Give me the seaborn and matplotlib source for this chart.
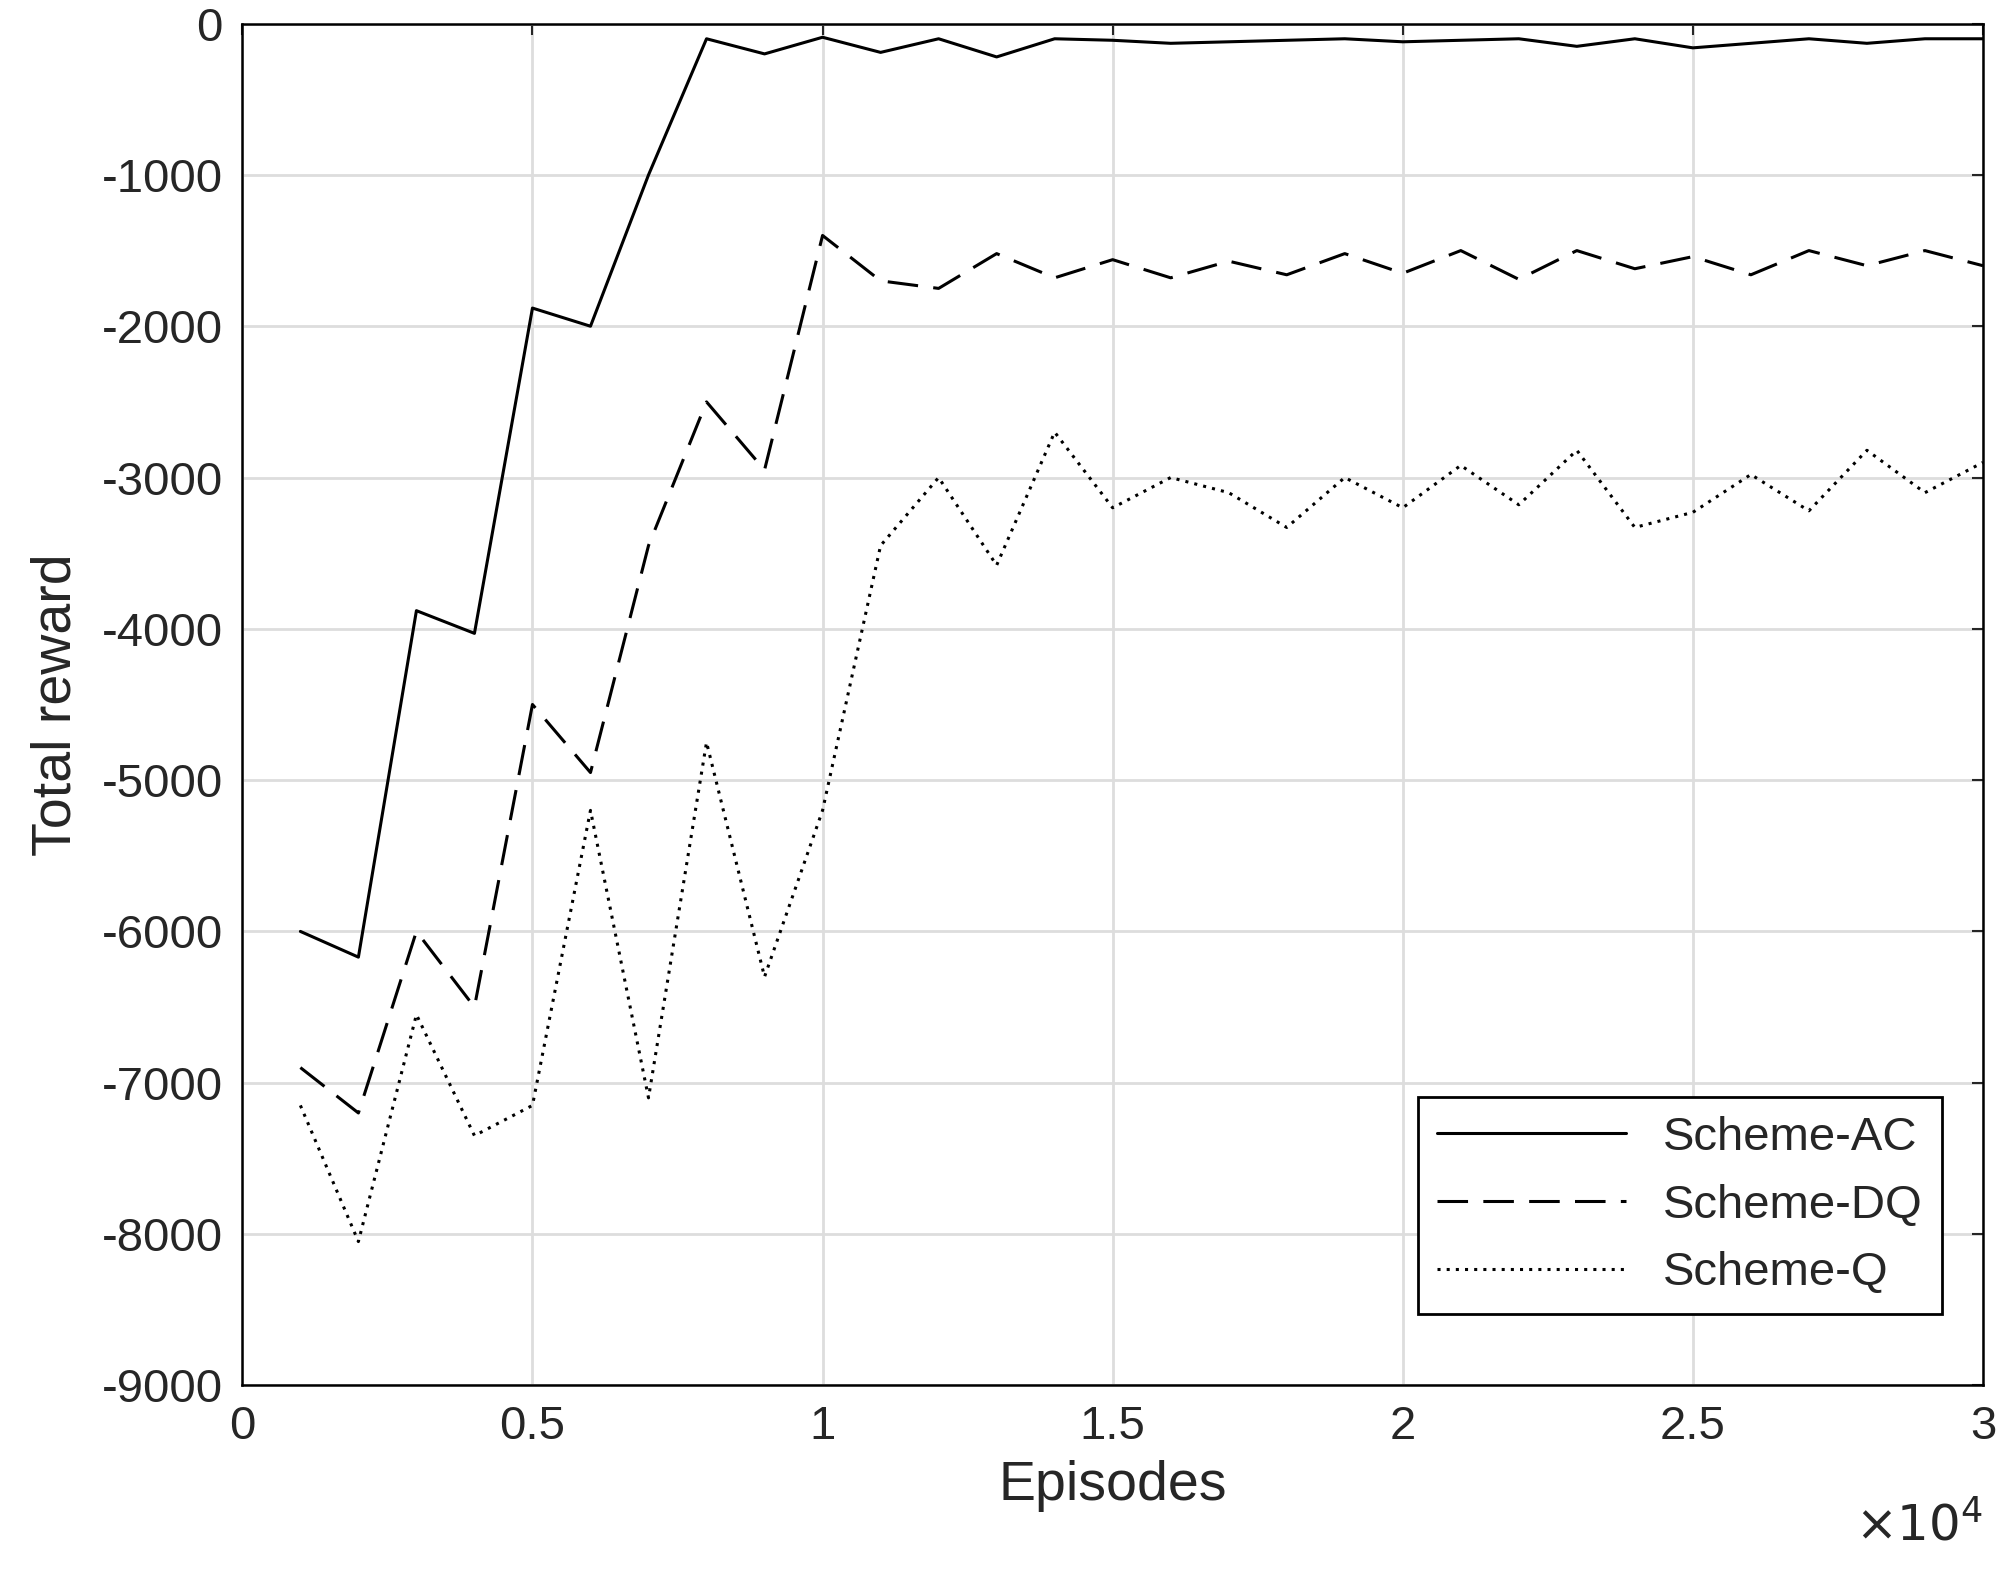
import numpy as np
import pandas as pd
import matplotlib
matplotlib.use("Agg")
import matplotlib.pyplot as plt
from matplotlib.ticker import FuncFormatter
import seaborn as sns

episodes = list(range(1000, 30001, 1000))
ac = [-6000, -6170, -3880, -4030, -1880, -2000, -1000, -100, -200, -90,
      -190, -100, -220, -100, -110, -130, -120, -110, -100, -120,
      -110, -100, -150, -100, -160, -130, -100, -130, -100, -100]
dq = [-6900, -7200, -6000, -6500, -4500, -4950, -3450, -2500, -2950, -1400,
      -1700, -1750, -1520, -1680, -1560, -1680, -1570, -1660, -1520, -1650,
      -1500, -1690, -1500, -1620, -1540, -1660, -1500, -1600, -1500, -1600]
q = [-7150, -8050, -6550, -7350, -7150, -5200, -7100, -4750, -6300, -5200,
     -3450, -3000, -3580, -2700, -3200, -3000, -3100, -3330, -3000, -3200,
     -2920, -3180, -2820, -3330, -3230, -2980, -3220, -2820, -3100, -2900]
names = ["Scheme-AC", "Scheme-DQ", "Scheme-Q"]

df = pd.DataFrame({"Episodes": episodes * 3,
                   "reward": ac + dq + q,
                   "scheme": np.repeat(names, len(episodes))})

sns.set_style("white")
plt.rcParams['font.family'] = ['Liberation Sans', 'DejaVu Sans']
plt.rcParams['axes.unicode_minus'] = False
fig = plt.figure(figsize=(20.03, 15.76), dpi=100)
ax = fig.add_axes([0.121, 0.121, 0.869, 0.864])

styles = {"Scheme-AC": "-", "Scheme-DQ": (0, (10, 5)), "Scheme-Q": (0, (1, 2))}
for name in names:
    sns.lineplot(data=df[df.scheme == name], x="Episodes", y="reward", ax=ax,
                 color="black", linewidth=2.2, linestyle=styles[name], label=name)

ax.set_xlim(0, 30000)
ax.set_ylim(-9000, 0)
ax.set_xticks(np.arange(0, 30001, 5000))
ax.set_yticks(np.arange(-9000, 1, 1000))
ax.xaxis.set_major_formatter(FuncFormatter(lambda v, p: f"{v / 1e4:g}"))
ax.text(1.0, -0.085, r"$\times10^4$", transform=ax.transAxes, ha="right",
        va="top", fontsize=36, color="#262626")
ax.grid(True, color="#dddddd", linewidth=2)
ax.tick_params(direction="in", labelsize=34, length=8, width=1.5, top=True,
               right=True, pad=14, labelcolor="#262626")
for s in ax.spines.values():
    s.set_color("black")
    s.set_linewidth(1.8)
ax.set_xlabel("Episodes", fontsize=40, labelpad=8)
ax.set_ylabel("Total reward", fontsize=40, labelpad=14)
leg = ax.legend(loc="lower right", bbox_to_anchor=(0.99, 0.035), fontsize=34,
                fancybox=False, framealpha=1, edgecolor="black", handlelength=4)
leg.get_frame().set_linewidth(2)
fig.savefig("out.png", dpi=100)
